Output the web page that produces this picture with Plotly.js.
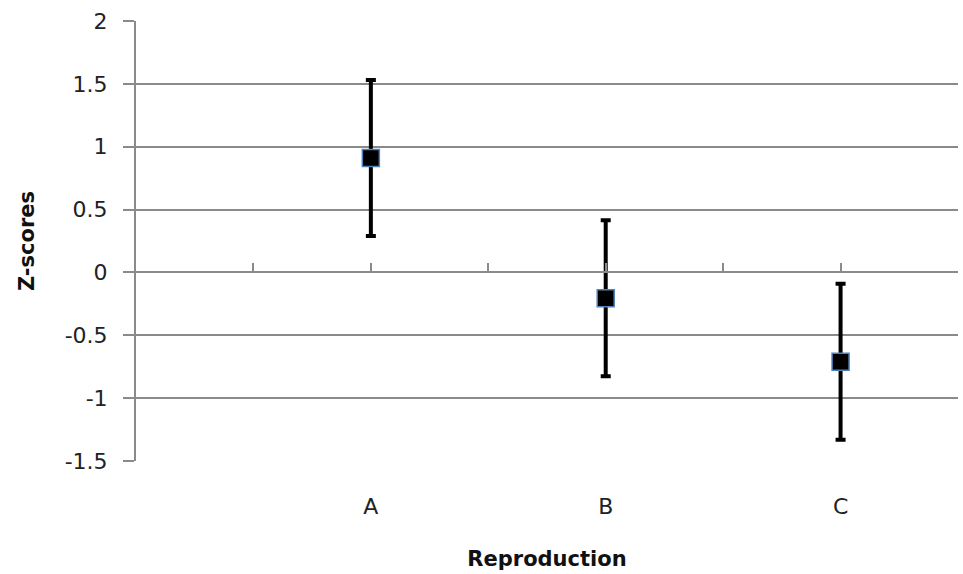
<!DOCTYPE html>
<html>
<head>
<meta charset="utf-8">
<script src="https://cdn.plot.ly/plotly-3.0.1.min.js"></script>
<style>html,body{margin:0;padding:0;background:#fff;}#chart{width:963px;height:574px;}</style>
</head>
<body>
<div id="chart"></div>
<script>
const categories = ["A", "B", "C"];
const positions = [1, 2, 3];
const zScores = [0.91, -0.205, -0.71];
const errors = [0.62, 0.62, 0.62];
const yTickValues = [-1.5, -1, -0.5, 0, 0.5, 1, 1.5, 2];
const yTickLabels = ["-1.5", "-1", "-0.5", "0", "0.5", "1", "1.5", "2"];

const gray = '#8a8a8a';
const font = "'DejaVu Sans', sans-serif";

const trace = {
  type: 'scatter',
  mode: 'markers',
  x: positions,
  y: zScores,
  xaxis: 'x2',
  yaxis: 'y',
  marker: {symbol: 'square', size: 17, color: '#000000', line: {color: '#4f81bd', width: 1.5}},
  error_y: {type: 'data', array: errors, visible: true, color: '#000000', thickness: 4, width: 5},
  showlegend: false,
  cliponaxis: false
};
// empty trace so the category-label axis is drawn
const labelAxisTrace = {type: 'scatter', mode: 'markers', x: [], y: [], xaxis: 'x', yaxis: 'y', showlegend: false};

const layout = {
  width: 963, height: 574,
  margin: {l: 136, r: 5, t: 21, b: 113},
  paper_bgcolor: '#ffffff', plot_bgcolor: '#ffffff',
  font: {family: font, color: '#222222', size: 22},
  xaxis: {
    range: [0, 3.5], tickvals: positions, ticktext: categories,
    showgrid: false, zeroline: false, showline: false, ticks: '',
    ticklabelstandoff: 30, tickfont: {size: 22, family: font, color: '#222'},
    title: {text: 'Reproduction', font: {size: 21, family: font, color: '#111', weight: 'bold'}, standoff: 33}
  },
  xaxis2: {
    overlaying: 'x', anchor: 'free', position: 1.5 / 3.5, side: 'bottom',
    range: [0, 3.5], tickmode: 'linear', tick0: 0.5, dtick: 0.5,
    showticklabels: false, ticks: 'inside', ticklen: 8, tickwidth: 2, tickcolor: gray,
    showline: true, linecolor: gray, linewidth: 2, showgrid: false, zeroline: false
  },
  yaxis: {
    range: [-1.5, 2], tickvals: yTickValues, ticktext: yTickLabels,
    showgrid: true, gridcolor: gray, gridwidth: 2, zeroline: false,
    showline: true, linecolor: gray, linewidth: 2,
    ticks: 'outside', ticklen: 11, tickwidth: 2, tickcolor: gray,
    ticklabelstandoff: 11, tickfont: {size: 22, family: font, color: '#222'},
    title: {text: 'Z-scores', font: {size: 21, family: font, color: '#111', weight: 'bold'}, standoff: 24}
  }
};

Plotly.newPlot('chart', [labelAxisTrace, trace], layout, {displayModeBar: false, staticPlot: true});
</script>
</body>
</html>
